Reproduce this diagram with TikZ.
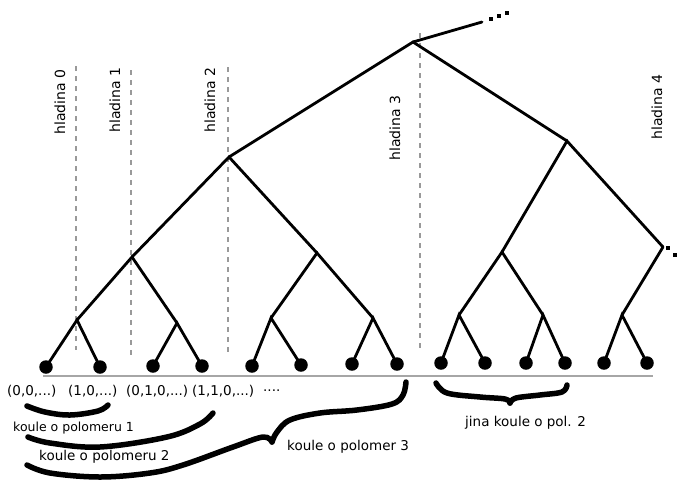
\documentclass[tikz,border=0pt]{standalone}
\usepackage{fontspec}
\setmainfont{DejaVu Sans}
\begin{document}
\begin{tikzpicture}[x=1pt,y=-1pt,
  edge/.style={line width=2.8pt, line cap=round},
  leaf/.style={circle, fill=black, inner sep=0pt, minimum size=13.5pt},
  levelline/.style={draw=gray!80, line width=1.4pt, dash pattern=on 5pt off 5pt},
  lab/.style={font=\fontsize{13.5}{16}\selectfont, inner sep=0pt, anchor=west},
  hl/.style={font=\fontsize{14}{16}\selectfont, rotate=90, inner sep=0pt},
  brace/.style={line width=5.5pt, line cap=round, line join=round},
  sq/.style={rectangle, fill=black, inner sep=0pt, minimum size=4pt}
]
\useasboundingbox (0,0) rectangle (677,480);

% level separators
\draw[levelline] (76,66) -- (76,350);
\draw[levelline] (131,70) -- (131,355);
\draw[levelline] (228,67) -- (228,355);
\draw[levelline] (420,33) -- (420,348);

\node[hl] (h0) at (60,102) {hladina 0};
\node[hl] (h1) at (115,100) {hladina 1};
\node[hl] (h2) at (210,100) {hladina 2};
\node[hl] (h3) at (395,128) {hladina 3};
\node[hl] (h4) at (657,107) {hladina 4};

% ground line
\draw[gray!70, line width=2pt] (43,376) -- (653,376);

% inner vertices
\coordinate (r) at (413,42);
\coordinate (up) at (482,22);
\coordinate (a) at (229,157);
\coordinate (b) at (567,141);
\coordinate (aa) at (132,257);
\coordinate (ab) at (317,253);
\coordinate (ba) at (502,252);
\coordinate (bb) at (663,247);
\coordinate (aaa) at (77,320);
\coordinate (aab) at (177,323);
\coordinate (aba) at (271,318);
\coordinate (abb) at (373,318);
\coordinate (baa) at (459,315);
\coordinate (bab) at (543,315);
\coordinate (bba) at (622,315);

% leaves
\node[leaf] (l1) at (46,367) {};
\node[leaf] (l2) at (100,367) {};
\node[leaf] (l3) at (153,366) {};
\node[leaf] (l4) at (202,366) {};
\node[leaf] (l5) at (252,366) {};
\node[leaf] (l6) at (301,365) {};
\node[leaf] (l7) at (352,364) {};
\node[leaf] (l8) at (397,364) {};
\node[leaf] (l9) at (441,363) {};
\node[leaf] (l10) at (485,363) {};
\node[leaf] (l11) at (526,363) {};
\node[leaf] (l12) at (565,363) {};
\node[leaf] (l13) at (604,363) {};
\node[leaf] (l14) at (647,363) {};

% edges
\draw[edge] (up) -- (r);
\draw[edge] (a) -- (r) -- (b);
\draw[edge] (aa) -- (a) -- (ab);
\draw[edge] (ba) -- (b) -- (bb);
\draw[edge] (aaa) -- (aa) -- (aab);
\draw[edge] (aba) -- (ab) -- (abb);
\draw[edge] (baa) -- (ba) -- (bab);
\draw[edge] (bba) -- (bb);
\draw[edge] (l1.center) -- (aaa) -- (l2.center);
\draw[edge] (l3.center) -- (aab) -- (l4.center);
\draw[edge] (l5.center) -- (aba) -- (l6.center);
\draw[edge] (l7.center) -- (abb) -- (l8.center);
\draw[edge] (l9.center) -- (baa) -- (l10.center);
\draw[edge] (l11.center) -- (bab) -- (l12.center);
\draw[edge] (l13.center) -- (bba) -- (l14.center);

% continuation dots
\node[sq] (d1) at (491,19) {};
\node[sq] (d2) at (499,16) {};
\node[sq] (d3) at (507,13) {};
\node[sq] (d4) at (668,248) {};
\node[sq] (d5) at (675,255) {};

% leaf labels
\node[lab] (t1) at (7,391) {(0,0,...)};
\node[lab] (t2) at (68,391) {(1,0,...)};
\node[lab] (t3) at (126,391) {(0,1,0,...)};
\node[lab] (t4) at (192,391) {(1,1,0,...)};
\node[lab] (t5) at (263,391) {....};

% hand-drawn braces
\draw[brace] plot[smooth, tension=0.6] coordinates {(27,406) (45,412) (70,415) (98,411) (108,405)};
\draw[brace] plot[smooth, tension=0.6] coordinates {(28,437) (50,443) (100,447) (167,437) (200,424) (213,413)};
\draw[brace] plot[smooth, tension=0.6] coordinates {(27,465) (50,473) (100,477) (150,473) (183,465) (233,447) (263,437) (272,442)};
\draw[brace] plot[smooth, tension=0.6] coordinates {(272,442) (277,432) (290,420) (320,413) (357,410) (392,404) (403,395) (406,382)};
\draw[brace] plot[smooth, tension=0.6] coordinates {(436,383) (447,393) (480,397) (505,399) (510,403)};
\draw[brace] plot[smooth, tension=0.6] coordinates {(510,403) (516,398) (540,395) (562,392) (567,385)};

% brace labels
\node[lab, font=\fontsize{12.5}{15}\selectfont] (k1) at (13,428) {koule o polomeru 1};
\node[lab] (k2) at (39,457) {koule o polomeru 2};
\node[lab] (k3) at (287,447) {koule o polomer 3};
\node[lab] (k4) at (465,423) {jina koule o pol. 2};
\end{tikzpicture}
\end{document}
